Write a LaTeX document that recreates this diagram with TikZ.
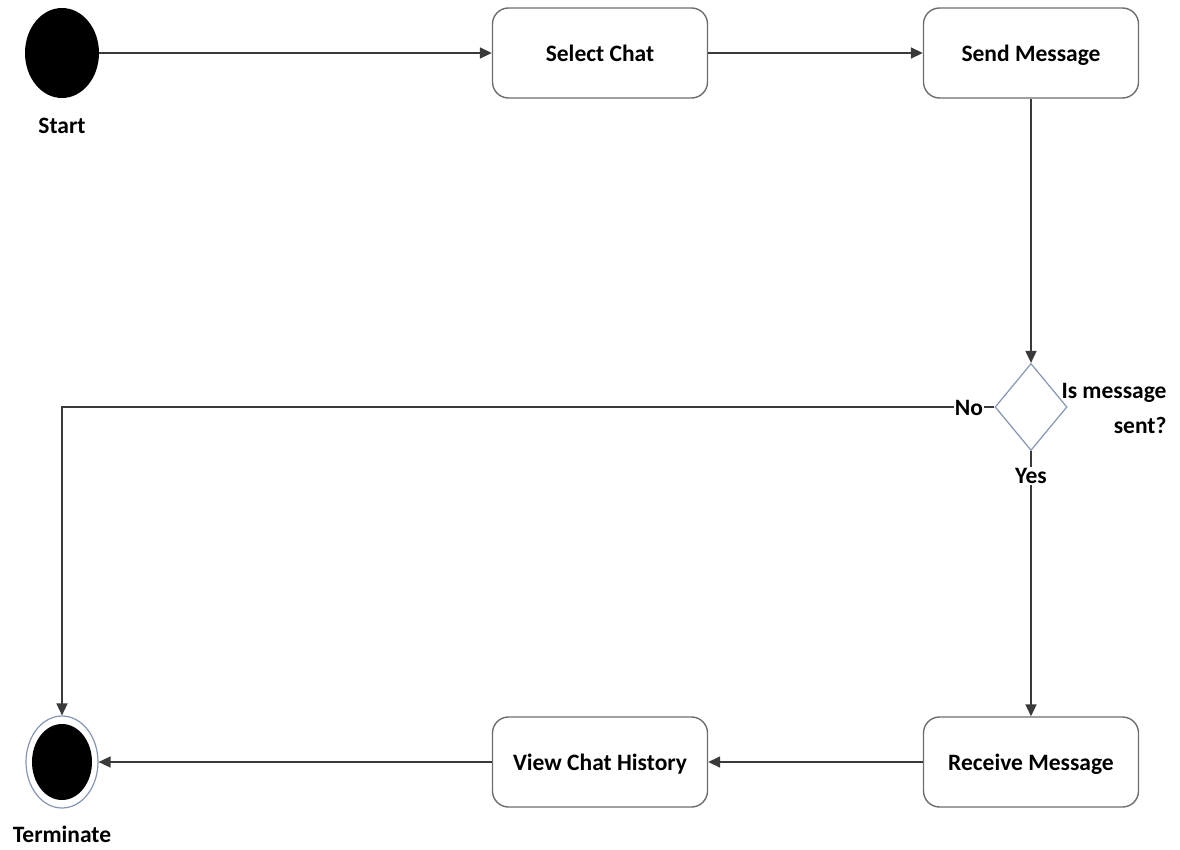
\documentclass[tikz,border=0pt]{standalone}
\usepackage{fontspec}
\setmainfont{Carlito}
\usetikzlibrary{shapes.geometric,arrows.meta}
\definecolor{linegray}{HTML}{3A3A3A}
\definecolor{boxgray}{HTML}{6E6E6E}
\definecolor{ringblue}{HTML}{8595B5}
\begin{document}
\begin{tikzpicture}[x=1pt,y=-1pt,
  every node/.style={font=\fontsize{23.5}{35}\selectfont\bfseries},
  activity/.style={draw=boxgray,line width=1.4pt,rounded corners=16pt,fill=white,
    minimum width=215pt,minimum height=90pt,inner sep=0pt,text height=18pt,text depth=1pt},
  flow/.style={draw=linegray,line width=1.6pt,-{Triangle[length=12pt,width=11pt]}},
  lbl/.style={fill=white,inner sep=1pt}]
\useasboundingbox (0,0) rectangle (1180,850);
\fill[white] (0,0) rectangle (1180,850);

% initial and final states
\node[ellipse,fill=black,minimum width=74pt,minimum height=90pt,inner sep=0pt] (start) at (62,53) {};
\node at (62,126) {Start};
\node[ellipse,draw=ringblue,line width=1.2pt,fill=white,minimum width=72pt,minimum height=92pt,inner sep=0pt] (term) at (62,762) {};
\node[ellipse,fill=black,minimum width=60pt,minimum height=76pt,inner sep=0pt] (termin) at (62,762) {};
\node at (62,834) {Terminate};

% activities
\node[activity] (select) at (600,53) {Select Chat};
\node[activity] (send) at (1031,53) {Send Message};
\node[activity] (recv) at (1031,762) {Receive Message};
\node[activity] (view) at (600,762) {View Chat History};

% decision
\node[diamond,draw=ringblue,line width=1.2pt,minimum width=72pt,minimum height=87pt,inner sep=0pt] (dec) at (1031,407) {};
\node[anchor=east,align=right] (q) at (1170,408) {Is message\\sent?};

% flows
\draw[flow] (start) -- (select);
\draw[flow] (select) -- (send);
\draw[flow] (send) -- (dec.north);
\draw[flow] (dec.west) -| (term.north);
\node[lbl] (no) at (969,408) {No};
\draw[flow] (dec.south) -- (recv.north);
\node[lbl] (yes) at (1031,476) {Yes};
\draw[flow] (recv) -- (view);
\draw[flow] (view) -- (term);
\end{tikzpicture}
\end{document}
